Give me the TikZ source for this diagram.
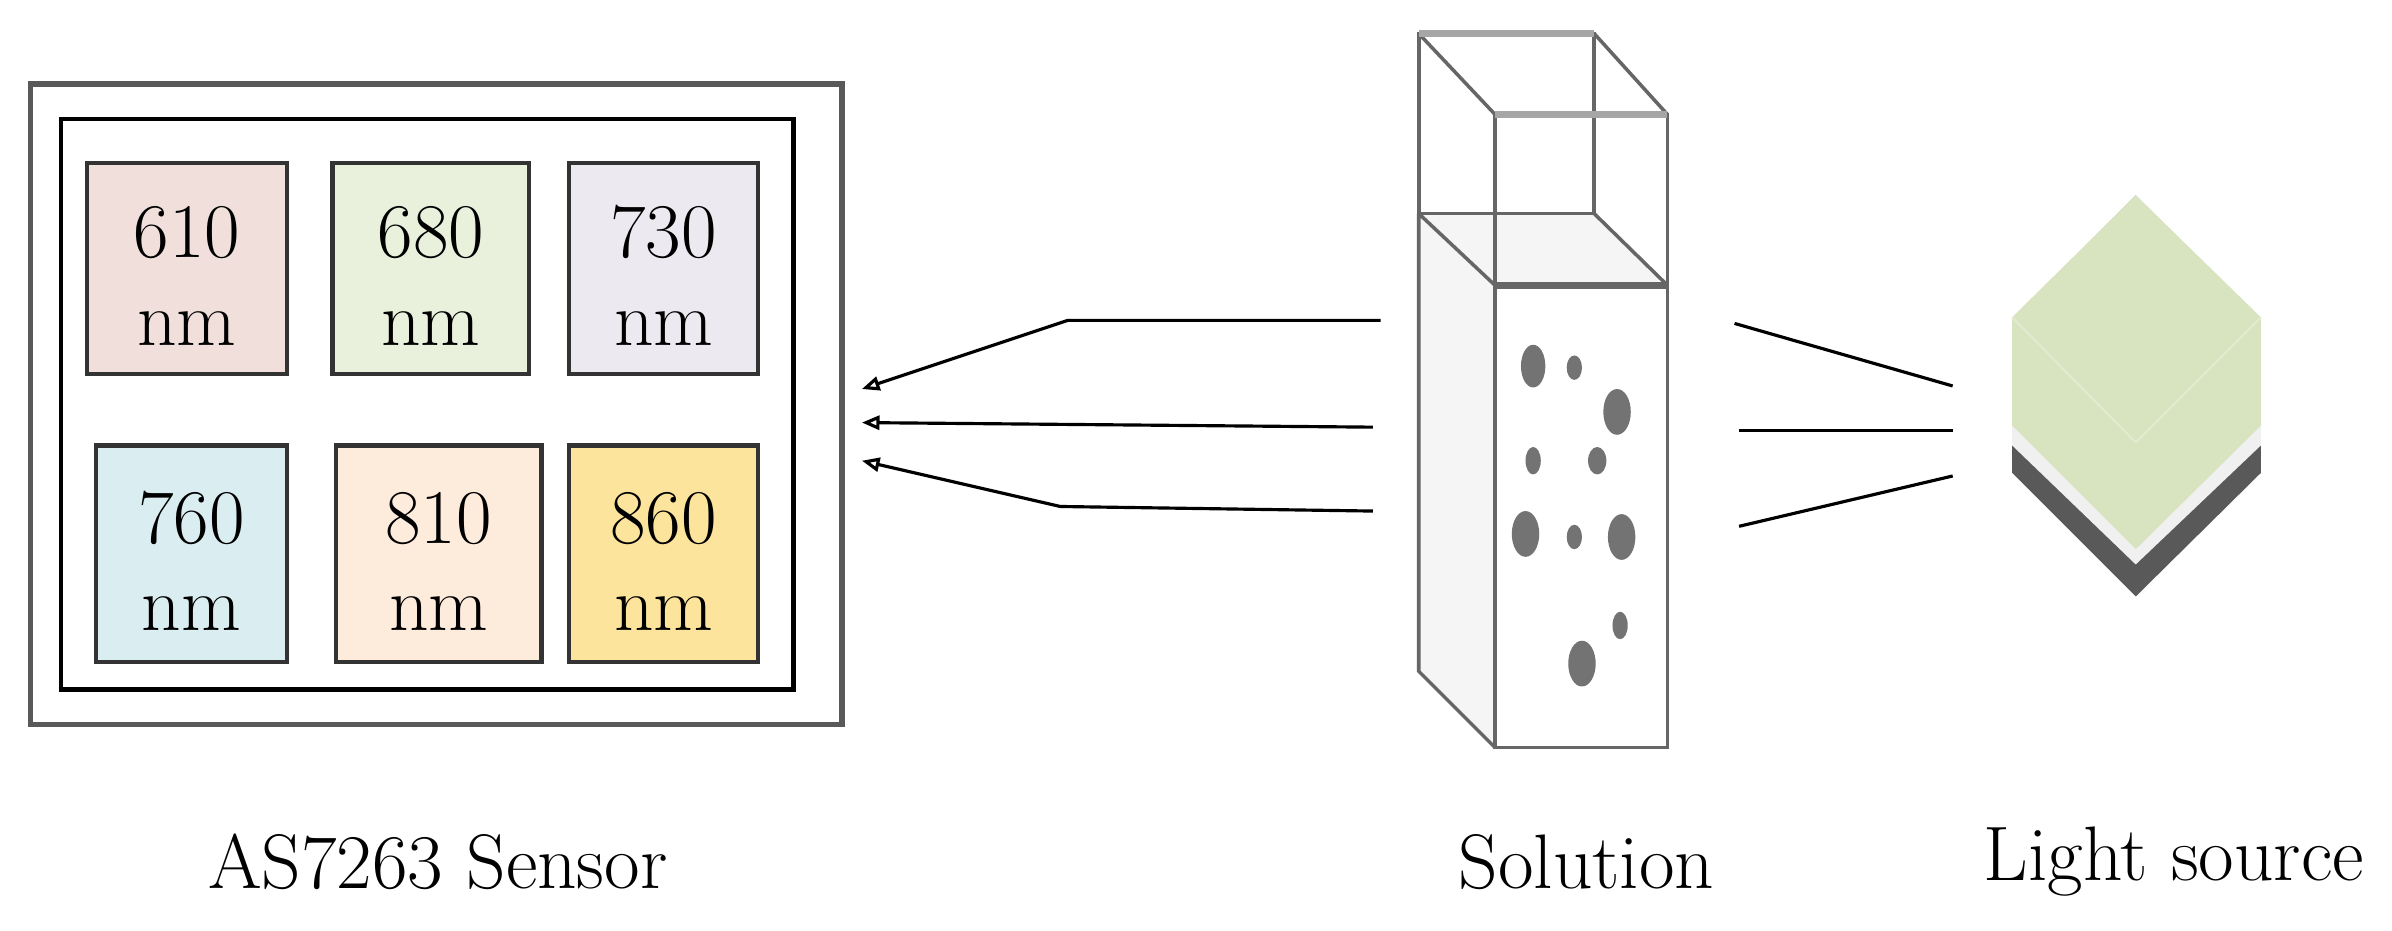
\documentclass[tikz,border=0pt]{standalone}
\usetikzlibrary{arrows.meta}
\definecolor{cA}{HTML}{F0DFDB}
\definecolor{cB}{HTML}{E9F0DC}
\definecolor{cC}{HTML}{ECE9F0}
\definecolor{cD}{HTML}{DAEDF0}
\definecolor{cE}{HTML}{FDEBDC}
\definecolor{cF}{HTML}{FDE49C}
\definecolor{led}{HTML}{D8E3C0}
\definecolor{ledl}{HTML}{E2EAD0}
\begin{document}
\begin{tikzpicture}[x=0.015255cm,y=-0.015255cm,
 tile/.style={draw=black!80,line width=1.2pt,align=center,inner sep=0pt,font=\fontsize{22}{27}\selectfont},
 lbl/.style={font=\fontsize{22}{26}\selectfont},
 ray/.style={line width=0.9pt},
 arr/.style={ray,-{Triangle[open,length=5pt,width=4pt]}},
 dot/.style={fill=black!55,draw=none}]
\useasboundingbox (0,0) rectangle (1568,610);
\fill[white] (0,0) rectangle (1568,610);
% sensor
\draw[black!65,line width=1.5pt] (20,55) rectangle (552,475);
\draw[black,line width=1.3pt] (40,78) rectangle (520,452);
\def\tile#1#2#3#4#5#6{\node[tile,fill=#6,minimum width={(#3-#1)*0.015255cm},minimum height={(#4-#2)*0.015255cm}] (#5) at ({(#1+#3)/2},{(#2+#4)/2}) {\strut#5\\[-2pt]nm};}
\tile{57}{107}{188}{245}{610}{cA}
\tile{218}{107}{347}{245}{680}{cB}
\tile{373}{107}{497}{245}{730}{cC}
\tile{63}{292}{188}{434}{760}{cD}
\tile{220}{292}{355}{434}{810}{cE}
\tile{373}{292}{497}{434}{860}{cF}
% arrows
\coordinate (a1) at (905,210); \coordinate (b1) at (700,210); \coordinate (c1) at (565,255);
\coordinate (a2) at (900,280); \coordinate (c2) at (565,277);
\coordinate (a3) at (900,335); \coordinate (b3) at (695,332); \coordinate (c3) at (565,302);
\draw[arr] (a1) -- (b1) -- (c1);
\draw[arr] (a2) -- (c2);
\draw[arr] (a3) -- (b3) -- (c3);
% cuvette
\fill[black!4] (930,140) -- (930,440) -- (980,490) -- (980,187) -- cycle;
\fill[black!4] (930,140) -- (1045,140) -- (1093,187) -- (980,187) -- cycle;
\draw[black!60,line width=1pt] (930,22) rectangle (1045,140);
\draw[black!60,line width=1pt] (980,75) rectangle (1093,490);
\draw[black!60,line width=1pt] (930,22) -- (980,75) (1045,22) -- (1093,75) (930,140) -- (980,187) (1045,140) -- (1093,187) (930,140) -- (930,440) -- (980,490);
\draw[black!60,line width=2pt] (980,187) -- (1093,187);
\draw[black!35,line width=2pt] (930,22) -- (1045,22) (980,75) -- (1093,75);
\foreach \x/\y/\rx/\ry in {1005/240/8/14,1032/241/5/8,1060/270/9/15,1005/302/5/9,1047/302/6/9,1000/350/9/15,1032/352/5/8,1063/352/9/15,1062/410/5/9,1037/435/9/15}
 \fill[dot] (\x,\y) ellipse ({\rx*0.015255cm} and {\ry*0.015255cm});
% rays
\coordinate (r1) at (1137,212); \coordinate (s1) at (1280,253);
\coordinate (r2) at (1140,282); \coordinate (s2) at (1280,282);
\coordinate (r3) at (1140,345); \coordinate (s3) at (1280,312);
\draw[ray] (r1) -- (s1); \draw[ray] (r2) -- (s2); \draw[ray] (r3) -- (s3);
% light source
\fill[black!65] (1400,128) -- (1319,210) -- (1319,310) -- (1400,391) -- (1482,310) -- (1482,210) -- cycle;
\fill[black!6] (1400,128) -- (1319,210) -- (1319,292) -- (1400,370) -- (1482,292) -- (1482,210) -- cycle;
\fill[led] (1400,128) -- (1319,208) -- (1319,279) -- (1400,360) -- (1482,279) -- (1482,208) -- cycle;
\draw[ledl,line width=0.6pt] (1319,208) -- (1400,290) -- (1482,208);
% labels
\node[lbl] (l1) at (287,565) {AS7263 Sensor};
\node[lbl] (l2) at (1040,565) {Solution};
\node[lbl] (l3) at (1425,565) {Light source};
\end{tikzpicture}
\end{document}
